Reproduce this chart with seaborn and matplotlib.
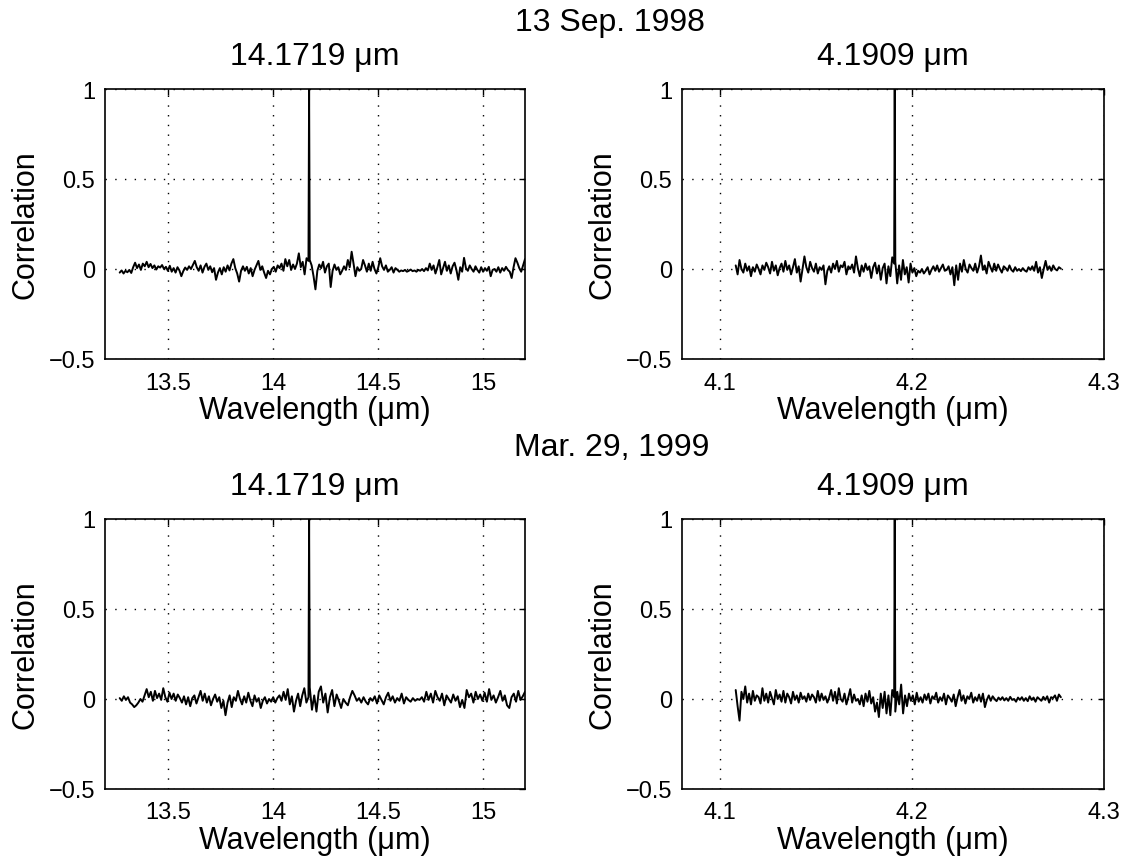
import numpy as np
import pandas as pd
import matplotlib
matplotlib.use("Agg")
import matplotlib.pyplot as plt
import seaborn as sns

# ---------------- data ----------------
date_titles = ["13 Sep. 1998", "Mar. 29, 1999"]
line_titles = ["14.1719 \u03bcm", "4.1909 \u03bcm"]
peak_value = 1.0

lw_range = (13.27, 14.1719, 15.2)     # start, peak, end (um) long-wave channel
sw_range = (4.108, 4.1909, 4.2775)    # start, peak, end (um) short-wave channel
lw_spike_gap = 0.003                  # distance of first side sample from the peak (um)
sw_spike_gap = 0.0003

tl_before = [-0.020, -0.008, -0.025, -0.010, -0.018, -0.005, -0.022,
             0.010, 0.035, 0.005, 0.025, -0.005, 0.030, 0.015, 0.040, 0.010, 0.028,
             0.005, 0.020, -0.003, 0.015, 0.008, 0.022, 0.000,
             0.012, -0.010, 0.018, -0.015, 0.005, -0.020, 0.010, -0.008, -0.040, -0.012,
             0.008, -0.005, 0.015, 0.000, 0.022, 0.045, 0.010,
             -0.010, 0.020, -0.020, 0.012, 0.030, -0.005, 0.015, -0.018, 0.005, -0.060,
             -0.020, 0.005, -0.030, 0.010, -0.015, 0.020, -0.008, 0.030, 0.055,
             0.005, -0.025, -0.070, -0.010, 0.015,
             -0.010, 0.012, -0.025, 0.005, -0.040, -0.005, 0.020, 0.045, -0.005, 0.015,
             -0.020, -0.050, -0.010, -0.030, 0.000,
             0.012, -0.015, 0.020, 0.005, 0.030, -0.010, 0.055, 0.015, 0.050, -0.005, 0.025, 0.000,
             0.030, 0.087, 0.010, 0.040, -0.030, 0.060, 0.045]
tl_after = [0.050, 0.020, -0.040, -0.113, -0.010, 0.025, 0.005, 0.040, -0.020, 0.015, 0.030,
            -0.100, -0.010, 0.025, -0.005, 0.010, -0.030, -0.010, 0.015, -0.005, 0.050,
            0.010, 0.096, 0.030, -0.040, 0.010, -0.010, 0.000, 0.050, 0.020, -0.015, 0.030,
            -0.010, 0.040, 0.000, -0.025, 0.010, 0.060, 0.015, -0.005, 0.020, -0.015, -0.005,
            0.010, -0.020, 0.005,
            -0.005, -0.015, -0.008, -0.012, -0.005, -0.015, -0.010, -0.003, -0.012, -0.008,
            -0.015, -0.005, -0.010, 0.000, -0.012, 0.005, -0.008, 0.030,
            -0.005, 0.020, -0.025, 0.010, 0.050, -0.030, 0.005, 0.040, -0.010, 0.020, -0.025,
            0.015, 0.035, -0.005, -0.060, 0.010, -0.015, 0.062, 0.005, -0.010, 0.020, 0.000,
            -0.015, 0.015, -0.005,
            -0.020, 0.010, -0.015, 0.005, -0.010, 0.012, -0.040, -0.005, 0.000, -0.015, 0.010,
            -0.020, 0.005, -0.010, 0.012, -0.005, -0.015, -0.050, 0.010, 0.060, 0.035, 0.005,
            -0.015, 0.020, 0.055]

tr_before = [0.020, -0.030, 0.050, 0.000, -0.020, 0.030, -0.010, 0.015, -0.040, 0.010,
             -0.015, 0.025, 0.000, -0.030, 0.020, -0.005, 0.035, 0.010, -0.025, 0.040,
             -0.010, 0.020, -0.035, 0.005, 0.030, -0.015, 0.045, -0.005, 0.020, -0.030,
             0.010, 0.055, -0.020, 0.015, -0.070, 0.000, 0.070, 0.010, -0.020, 0.040,
             0.005, -0.015, 0.030, -0.025, 0.010, -0.005, 0.020, -0.085, -0.010, 0.015,
             -0.020, 0.030, 0.000, 0.045, -0.015, 0.020, 0.010, 0.040, -0.030, 0.015,
             0.000, 0.025, -0.020, 0.070, 0.005, -0.040, 0.020, -0.015, 0.030, -0.005,
             0.015, -0.050, 0.010, 0.035, -0.025, 0.020, -0.060, 0.005, 0.030, -0.080,
             0.015, -0.040, 0.065, 0.030]
tr_after = [0.040, -0.080, 0.020, -0.060, 0.050, -0.030, 0.010, -0.075, 0.030, -0.020,
            0.005, -0.040, -0.010, -0.020, 0.000, -0.025, -0.010, 0.010, -0.030, -0.005,
            0.015, -0.010, 0.020, -0.015, 0.005, 0.025, -0.010, -0.005, 0.015, -0.030,
            0.010, -0.090, 0.020, -0.060, 0.030, -0.015, 0.050, 0.000, -0.020, 0.025,
            0.005, -0.010, 0.030, -0.020, 0.015, 0.075, -0.005, 0.020, -0.025, 0.040,
            0.010, -0.015, 0.030, -0.010, 0.025, 0.000, -0.020, 0.015, 0.005, -0.010,
            0.020, -0.005, -0.015, 0.010, -0.010, 0.000, -0.012, 0.005, -0.008, -0.015,
            0.010, -0.005, 0.015, -0.010, 0.040, -0.020, 0.010, -0.050, 0.000, 0.045,
            -0.005, 0.015, -0.010, 0.020, 0.000, -0.008, 0.010, 0.002]

bl_before = [0.005, -0.010, 0.015, -0.005, 0.010, -0.020, -0.030, -0.045, -0.035, -0.020,
             0.000, -0.015, 0.020, 0.055, 0.010, 0.040, -0.010, 0.045, 0.005, 0.030,
             -0.005, 0.060, 0.010, -0.015, 0.035, 0.000, 0.030, -0.010, 0.025, 0.005,
             -0.020, 0.015, -0.030, 0.010, -0.040, 0.005, 0.020, -0.025, 0.010, 0.045,
             -0.010, 0.030, -0.020, 0.015, -0.035, 0.000, 0.025, -0.015, 0.010, -0.050,
             -0.010, -0.090, -0.020, 0.020, -0.045, 0.010, -0.010, 0.045, 0.000, -0.030,
             0.015, -0.020, 0.035, -0.010, -0.040, 0.020, -0.015, 0.005, -0.050, -0.010,
             0.010, -0.025, 0.000, -0.015, 0.010, -0.020, 0.005, 0.020, -0.010, 0.040,
             -0.005, 0.055, -0.030, 0.015, -0.070, -0.010, 0.030, -0.040, 0.020, 0.060,
             -0.020, 0.010]
bl_after = [0.065, -0.060, 0.020, -0.070, 0.040, 0.070, -0.020, 0.030, -0.075, 0.010,
            0.050, -0.040, 0.025, -0.010, -0.050, 0.000, -0.020, -0.035, 0.010, 0.045,
            0.020, -0.010, 0.005, -0.020, 0.010, -0.015, -0.030, 0.005, -0.010, 0.015,
            -0.025, 0.020, -0.005, -0.030, 0.010, 0.035, -0.010, 0.015, -0.020, 0.005,
            -0.010, 0.030, -0.025, 0.010, -0.005, -0.015, 0.005, -0.010, 0.000, -0.005,
            0.010, -0.015, 0.040, -0.005, 0.030, -0.020, 0.045, 0.010, -0.010, 0.030,
            -0.035, 0.020, 0.000, -0.020, 0.025, -0.010, 0.015, -0.045, -0.005, -0.050,
            0.050, 0.010, 0.030, -0.020, 0.040, 0.000, 0.025, -0.010, 0.035, -0.015,
            0.055, -0.005, 0.020, -0.020, 0.010, 0.045, -0.010, 0.020, -0.035, -0.050,
            0.010, 0.030, -0.015, 0.045, -0.005, 0.015, 0.040]

br_before = [0.050, -0.040, -0.120, 0.040, 0.000, 0.070, -0.020, 0.030, -0.030, 0.045,
             -0.010, 0.020, 0.010, -0.025, 0.060, -0.010, 0.030, -0.020, 0.040, 0.005,
             -0.030, 0.050, 0.000, 0.025, -0.015, 0.045, -0.020, 0.030, 0.010, -0.025,
             0.040, -0.005, 0.020, -0.020, 0.035, 0.000, 0.015, -0.015, 0.030, -0.005,
             0.025, 0.010, -0.020, 0.045, -0.010, 0.030, -0.005, 0.015, -0.020, 0.010,
             0.050, -0.010, 0.040, -0.025, 0.060, 0.000, -0.015, 0.030, -0.030, 0.010,
             0.055, -0.020, 0.025, -0.010, 0.000, -0.030, 0.020, -0.040, 0.030, -0.015,
             0.045, -0.025, 0.010, -0.070, -0.020, -0.100, 0.030, -0.050, 0.040, -0.080,
             0.020, -0.090, 0.050, 0.010]
br_after = [-0.070, 0.040, -0.030, 0.080, -0.080, 0.020, -0.040, 0.030, -0.010, 0.020,
            -0.030, 0.035, -0.015, 0.010, -0.020, 0.025, -0.005, 0.030, -0.025, 0.015,
            0.000, 0.035, -0.020, 0.010, -0.010, 0.030, -0.030, 0.020, 0.005, -0.015,
            0.025, -0.040, 0.010, 0.050, -0.010, 0.020, -0.025, 0.015, 0.000, 0.035,
            -0.020, 0.010, -0.010, 0.025, -0.015, 0.030, -0.045, -0.005, 0.020, -0.010,
            0.015, 0.000, -0.012, 0.008, -0.005, 0.010, -0.008, 0.005, -0.010, 0.012,
            -0.005, 0.000, -0.015, 0.008, -0.005, 0.010, -0.010, 0.005, -0.012, 0.015,
            -0.005, 0.008, -0.015, 0.010, 0.000, -0.010, 0.012, -0.005, 0.015, -0.020,
            0.010, 0.005, 0.020, -0.010, 0.025, 0.010]

lw_xticks = [13.5, 14, 14.5, 15]
lw_xticklabels = ["13.5", "14", "14.5", "15"]
sw_xticks = [4.1, 4.2, 4.3]
sw_xticklabels = ["4.1", "4.2", "4.3"]
yticks = [-0.5, 0, 0.5, 1]
yticklabels = ["\u22120.5", "0", "0.5", "1"]


def spectrum(rng, gap, before, after):
    start, peak, end = rng
    xb = np.linspace(start, peak - gap, len(before))
    xa = np.linspace(peak + gap, end, len(after))
    x = np.concatenate([xb, [peak], xa])
    y = np.concatenate([before, [peak_value], after])
    return pd.DataFrame({"wavelength": x, "corr": y})


# ---------------- style ----------------
sns.set_style("white")
plt.rcParams["font.family"] = ["Liberation Sans", "DejaVu Sans"]
plt.rcParams["axes.unicode_minus"] = True
for key in ["text.color", "axes.labelcolor", "xtick.color", "ytick.color",
            "xtick.labelcolor", "ytick.labelcolor"]:
    plt.rcParams[key] = "black"

fig = plt.figure(figsize=(11.28, 8.62), dpi=100)

W, H = 1128, 862
def rect(left, top, right, bottom):
    return [left / W, 1 - bottom / H, (right - left) / W, (bottom - top) / H]

panels = [
    (rect(105, 90, 525, 360), lw_range, lw_spike_gap, tl_before, tl_after, (13.2, 15.2), lw_xticks, lw_xticklabels, line_titles[0]),
    (rect(682, 90, 1104, 360), sw_range, sw_spike_gap, tr_before, tr_after, (4.08, 4.3), sw_xticks, sw_xticklabels, line_titles[1]),
    (rect(105, 520, 525, 790), lw_range, lw_spike_gap, bl_before, bl_after, (13.2, 15.2), lw_xticks, lw_xticklabels, line_titles[0]),
    (rect(682, 520, 1104, 790), sw_range, sw_spike_gap, br_before, br_after, (4.08, 4.3), sw_xticks, sw_xticklabels, line_titles[1]),
]

for r, rng, gap, before, after, xlim, xt, xtl, title in panels:
    ax = fig.add_axes(r)
    df = spectrum(rng, gap, before, after)
    sns.lineplot(data=df, x="wavelength", y="corr", ax=ax, color="black",
                 linewidth=1.4, estimator=None, sort=False)
    ax.set_xlim(*xlim)
    ax.set_ylim(-0.5, 1.0)
    ax.set_xticks(xt)
    ax.set_xticklabels(xtl)
    ax.set_yticks(yticks)
    ax.set_yticklabels(yticklabels)
    ax.grid(True, color="black", linestyle=(0, (1, 6)), linewidth=1.0)
    ax.set_axisbelow(True)
    for s in ax.spines.values():
        s.set_visible(True)
        s.set_color("black")
        s.set_linewidth(1.2)
    ax.tick_params(axis="both", which="major", direction="in", length=4, width=1.0,
                   labelsize=17, top=True, right=True, color="black", labelcolor="black")
    ax.tick_params(axis="x", pad=9)
    ax.tick_params(axis="y", pad=7)
    ax.set_xlabel("Wavelength (\u03bcm)", fontsize=22, labelpad=1, color="black")
    ax.set_ylabel("Correlation", fontsize=22, labelpad=6, color="black")
    ax.set_title(title, fontsize=23, pad=18, color="black")

fig.text(610 / W, 1 - 23 / H, date_titles[0], ha="center", va="center", fontsize=23, color="black")
fig.text(612 / W, 1 - 448 / H, date_titles[1], ha="center", va="center", fontsize=23, color="black")

fig.savefig("out.png", dpi=100, facecolor="white")
